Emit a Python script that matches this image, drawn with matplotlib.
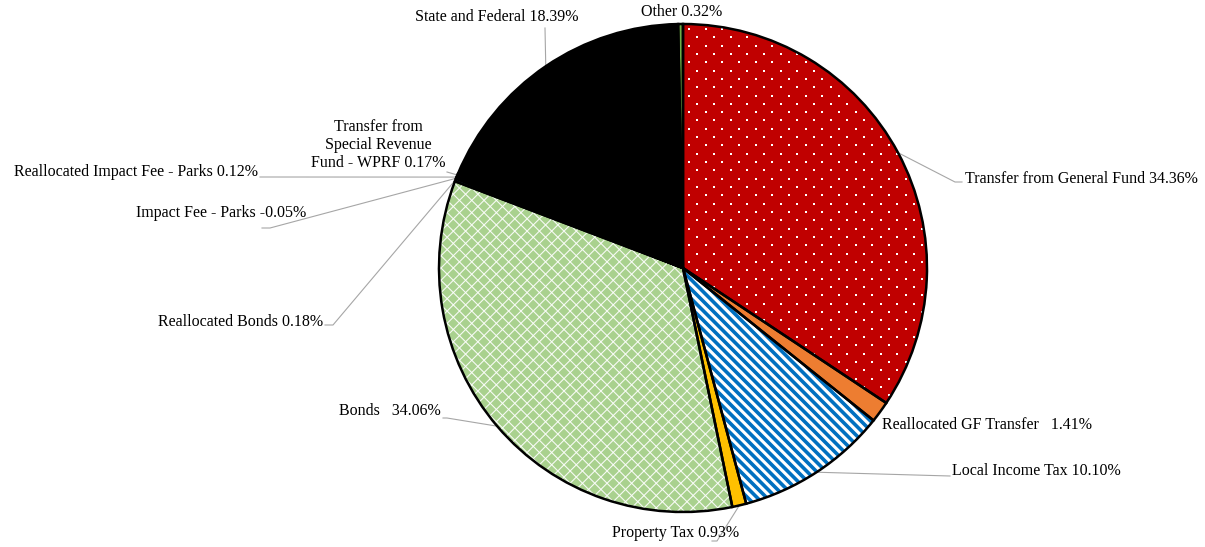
import numpy as np
import matplotlib
matplotlib.use("Agg")
import matplotlib.pyplot as plt
from matplotlib.patches import Wedge

plt.rcParams['font.family'] = ['Liberation Serif', 'DejaVu Serif']

# Revenue sources, clockwise from 12 o'clock
sources = ["Transfer from General Fund", "Reallocated GF Transfer", "Local Income Tax",
           "Property Tax", "Bonds", "Reallocated Bonds", "Impact Fee - Parks",
           "Reallocated Impact Fee - Parks", "Transfer from\nSpecial Revenue\nFund - WPRF",
           "State and Federal", "Other"]
shares = [34.36, 1.41, 10.10, 0.93, 34.06, 0.18, -0.05, 0.12, 0.17, 18.39, 0.32]
labels = ["Transfer from General Fund 34.36%", "Reallocated GF Transfer   1.41%",
          "Local Income Tax 10.10%", "Property Tax 0.93%", "Bonds   34.06%",
          "Reallocated Bonds 0.18%", "Impact Fee - Parks -0.05%",
          "Reallocated Impact Fee - Parks 0.12%",
          "Transfer from\nSpecial Revenue\nFund - WPRF 0.17%",
          "State and Federal 18.39%", "Other 0.32%"]

colors = ["#C00000", "#ED7D31", "white", "#FFC000", "#A9D18E", "#5B9BD5",
          "#A5A5A5", "#264478", "#9E480E", "black", "#70AD47"]

W, H = 1205, 547
fig = plt.figure(figsize=(W / 100, H / 100), dpi=100)
ax = fig.add_axes([0, 0, 1, 1])

cx, cy, R = 683, H - 268, 244
wedges, _ = ax.pie(np.abs(shares), colors=colors, startangle=90, counterclock=False,
                   center=(cx, cy), radius=R, frame=True,
                   wedgeprops=dict(linewidth=0))
ax.set_xlim(0, W)
ax.set_ylim(0, H)
ax.axis("off")


def clip_to(artists, wedge):
    for a in artists:
        a.set_clip_path(wedge)
        a.set_zorder(3)


# fill patterns (axes units are pixels here)
span = np.arange(-2 * R, 2 * R, 1.0)

# white dots on the general fund slice
w = wedges[0]
gx, gy = [], []
for k, yy in enumerate(np.arange(cy - R, cy + R, 8.33)):
    off = 0 if k % 2 == 0 else 8.33
    xs = np.arange(cx - R + off, cx + R, 16.67)
    gx.extend(xs)
    gy.extend([yy] * len(xs))
dots = ax.scatter(gx, gy, s=3, marker="s", color="white", linewidths=0)
clip_to([dots], w)

# blue diagonal stripes on local income tax
w = wedges[2]
stripes = []
for c in np.arange(-2 * R, 2 * R, 9.5):
    ln, = ax.plot(cx + c + span, cy - span, color="#0070C0", linewidth=2.6,
                  solid_capstyle="butt")
    stripes.append(ln)
clip_to(stripes, w)

# white lattice on bonds
w = wedges[4]
lattice = []
for c in np.arange(-2 * R, 2 * R, 12.3):
    for sgn in (1, -1):
        ln, = ax.plot(cx + c + span, cy + sgn * span, color="white", linewidth=0.8,
                      alpha=0.9)
        lattice.append(ln)
clip_to(lattice, w)

for w in wedges:
    ax.add_patch(Wedge((cx, cy), R, w.theta1, w.theta2, facecolor="none",
                       edgecolor="black", linewidth=1.8, zorder=4))

# label text position (pixels from top-left), alignment, leader elbow points
layout = [
    ((965, 179), "left", [(955, 182), (962, 182)]),
    ((882, 425), "left", None),
    ((952, 471), "left", [(950, 476)]),
    ((676, 533), "center", [(717, 541), (712, 541)]),
    ((441, 411), "right", [(447, 418), (443, 418)]),
    ((323, 322), "right", [(333, 325), (325, 325)]),
    ((306, 213), "right", [(270, 228), (262, 228)]),
    ((258, 172), "right", [(260, 177)]),
    ((378, 145), "center", [(447, 172)]),
    ((415, 17), "left", [(545, 28)]),
    ((682, 12), "center", None),
]

grey = "#A6A6A6"
for w, lab, (pos, ha, elbow) in zip(wedges, labels, layout):
    ax.text(pos[0], H - pos[1], lab, ha=ha, va="center", fontsize=11.5,
            color="black", multialignment="center", linespacing=1.2, zorder=5)
    if elbow:
        mid = np.deg2rad((w.theta1 + w.theta2) / 2)
        xs = [cx + R * np.cos(mid)] + [p[0] for p in elbow]
        ys = [cy + R * np.sin(mid)] + [H - p[1] for p in elbow]
        ax.plot(xs, ys, color=grey, linewidth=0.8, zorder=2)

fig.savefig("out.png", dpi=100)
